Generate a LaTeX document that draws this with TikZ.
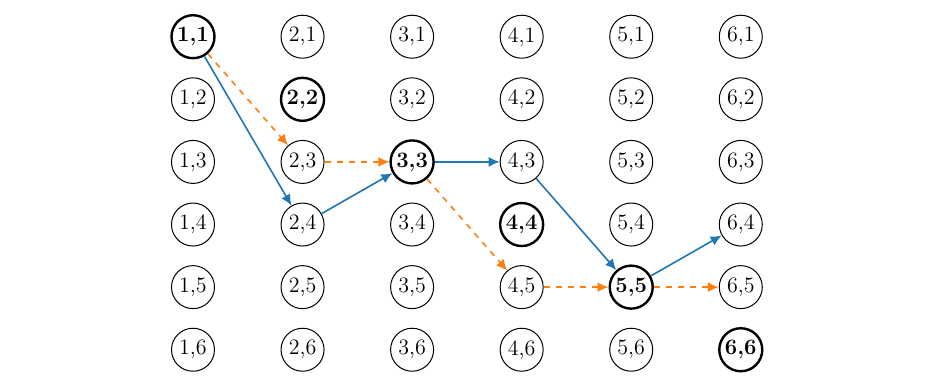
\documentclass[tikz,border=0pt]{standalone}
\usepackage{xcolor}
\definecolor{cBlue}{HTML}{1F77B4}
\definecolor{cOrange}{HTML}{FF7F0E}
\usepackage{tikz}
\usetikzlibrary{positioning,arrows.meta}
\tikzset{
  node-cell/.style={draw,circle,line width=0.5pt,minimum size=21.5pt,inner sep=0pt,
    font=\fontsize{11}{13}\selectfont},
  node-diag/.style={node-cell,line width=1.2pt,font=\fontsize{11}{13}\selectfont\bfseries},
  arrow-best/.style={-{Latex[length=5.5pt,width=5pt]},line width=0.8pt,draw=cBlue},
  arrow-alt/.style={-{Latex[length=5.5pt,width=5pt]},line width=0.8pt,dashed,draw=cOrange},
}
\begin{document}
\begin{tikzpicture}
  \useasboundingbox (-3.391,0.645) rectangle (12.985,-6.172);
  % grid of states
  \foreach \i in {1,...,6} {
    \foreach \j in {1,...,6} {
      \ifnum\i=\j
        \node[node-diag] (n\i\j) at ({(\i-1)*1.925},{-(\j-1)*1.1}) {\i,\j};
      \else
        \node[node-cell] (n\i\j) at ({(\i-1)*1.925},{-(\j-1)*1.1}) {\i,\j};
      \fi
    }
  }
  % solid path
  \draw[arrow-best] (n11) -- (n24);
  \draw[arrow-best] (n24) -- (n33);
  \draw[arrow-best] (n33) -- (n43);
  \draw[arrow-best] (n43) -- (n55);
  \draw[arrow-best] (n55) -- (n64);
  % dashed path
  \draw[arrow-alt] (n11) -- (n23);
  \draw[arrow-alt] (n23) -- (n33);
  \draw[arrow-alt] (n33) -- (n45);
  \draw[arrow-alt] (n45) -- (n55);
  \draw[arrow-alt] (n55) -- (n65);
\end{tikzpicture}
\end{document}
